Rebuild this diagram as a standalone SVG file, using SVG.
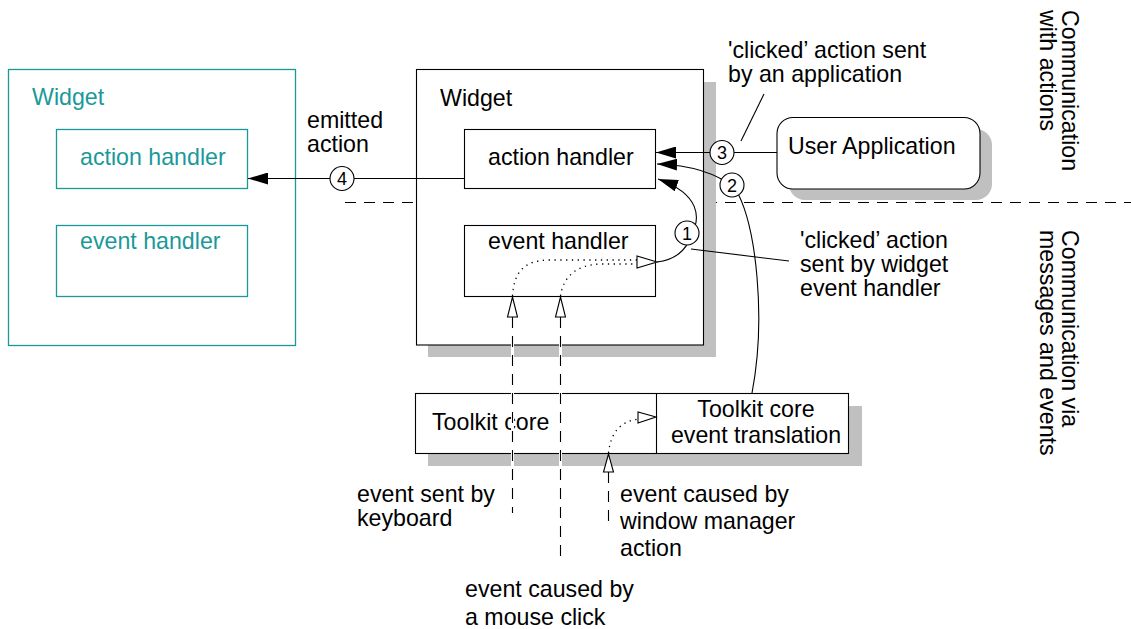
<svg xmlns="http://www.w3.org/2000/svg" width="1131" height="629" viewBox="0 0 1131 629">
  <style>
    text { font-family: "Liberation Sans", Arial, sans-serif; font-size: 23.2px; fill: #000; }
    .teal { fill: #1a9999; }
    .tealbox { fill: none; stroke: #1a9999; stroke-width: 1.3; }
    .box { fill: #fff; stroke: #000; stroke-width: 1.1; }
    .shadow { fill: #c0c0c0; stroke: none; }
    .line { fill: none; stroke: #000; stroke-width: 1.1; }
    .dotted { fill: none; stroke: #000; stroke-width: 1.3; stroke-dasharray: 1.3 4.5; }
    .dash { fill: none; stroke: #000; stroke-width: 1.1; stroke-dasharray: 11 8; }
    .under { fill: none; stroke: #fff; stroke-width: 3; }
    .open { fill: #fff; stroke: #000; stroke-width: 1.1; }
    .num { fill: #fff; stroke: #000; stroke-width: 1.1; }
    .numtxt { font-size: 18px; text-anchor: middle; }
    .mid { text-anchor: middle; }
  </style>
  <defs>
    <marker id="arrowFilled" markerUnits="userSpaceOnUse" markerWidth="20" markerHeight="12" refX="20" refY="6" orient="auto">
      <path d="M0,0 L20,6 L0,12 z" fill="#000"/>
    </marker>
  </defs>

  <!-- region separator -->
  <line class="dash" x1="345" y1="202.5" x2="1131" y2="202.5"/>

  <!-- emitting widget (teal) -->
  <g id="widget-emitted">
    <rect class="tealbox" x="8.5" y="69.5" width="287" height="276"/>
    <text class="teal" x="32" y="105">Widget</text>
    <rect class="tealbox" x="56.5" y="129.5" width="191" height="59"/>
    <text class="teal" x="80" y="165">action handler</text>
    <rect class="tealbox" x="56.5" y="225.5" width="191" height="71"/>
    <text class="teal" x="80" y="249">event handler</text>
  </g>

  <!-- widget -->
  <g id="widget">
    <path class="shadow" d="M704,82 H716 V357 H428 V345 H704 Z"/>
    <rect class="box" x="416.5" y="69.5" width="287" height="275.5"/>
    <text x="440" y="106">Widget</text>
  </g>
  <g id="action-handler">
    <rect class="box" x="464.5" y="129.5" width="191" height="59"/>
    <text x="488" y="165">action handler</text>
  </g>
  <g id="event-handler">
    <rect class="box" x="464.5" y="225.5" width="191" height="71"/>
    <text x="488" y="249">event handler</text>
  </g>

  <!-- user application -->
  <g id="user-application">
    <rect class="shadow" x="789" y="129" width="203" height="71" rx="16"/>
    <rect class="box" x="777" y="117.5" width="203" height="71.5" rx="16"/>
    <text x="788" y="154">User Application</text>
  </g>

  <!-- toolkit core -->
  <g id="toolkit-core">
    <rect class="shadow" x="428" y="406" width="434" height="60"/>
    <rect class="box" x="415.5" y="393.5" width="433" height="60"/>
    <text x="432" y="430">Toolkit core</text>
  </g>
  <g id="toolkit-translation">
    <line class="line" x1="656.5" y1="393.5" x2="656.5" y2="453.5"/>
    <text class="mid" x="756" y="417">Toolkit core</text>
    <text class="mid" x="756" y="443">event translation</text>
  </g>

  <!-- connectors -->
  <g id="connectors">
    <!-- 4: emitted action -->
    <path class="line" d="M464,178.5 L248,178.5" marker-end="url(#arrowFilled)"/>
    <!-- 3: action from the application -->
    <path class="line" d="M777,152.5 L656,152.5" marker-end="url(#arrowFilled)"/>
    <!-- 2: action from the event translation -->
    <path class="line" d="M752,393 C766,320 757,225 735,188 C715,172 690,165 657,164" marker-end="url(#arrowFilled)"/>
    <!-- 1: action from the widget event handler -->
    <path class="line" d="M657,262 C675,260 686,250 690,238 C702,218 700,194 658,179" marker-end="url(#arrowFilled)"/>

    <!-- incoming events -->
    <line class="under" x1="512.5" y1="317" x2="512.5" y2="513"/>
    <line class="dash" x1="512.5" y1="317" x2="512.5" y2="513"/>
    <line class="under" x1="560.5" y1="317" x2="560.5" y2="561"/>
    <line class="dash" x1="560.5" y1="317" x2="560.5" y2="561"/>
    <line class="under" x1="608.5" y1="472" x2="608.5" y2="523"/>
    <line class="dash" x1="608.5" y1="472" x2="608.5" y2="523"/>

    <path class="dotted" d="M512.5,296 C514,272 524,260 550,260 L637,260"/>
    <path class="dotted" d="M560.5,296 C563,278 575,265 600,264 L637,264"/>
    <path class="dotted" d="M608.5,453 C611,432 620,422 638,419"/>

    <polygon class="open" points="512.5,297 507.5,317 517.5,317"/>
    <polygon class="open" points="560.5,297 555.5,317 565.5,317"/>
    <polygon class="open" points="608.5,454 603.5,472 613.5,472"/>
    <polygon class="open" points="657,262 637,256 637,268"/>
    <polygon class="open" points="656,417 638,412 638,423"/>

    <!-- label leaders -->
    <line class="line" x1="764" y1="94" x2="741" y2="141"/>
    <line class="line" x1="691" y1="249" x2="789" y2="261"/>
  </g>

  <!-- step numbers -->
  <g id="step-4">
    <circle class="num" cx="342" cy="178.5" r="12"/>
    <text class="numtxt" x="342" y="185">4</text>
  </g>
  <g id="step-3">
    <circle class="num" cx="722" cy="152.5" r="12"/>
    <text class="numtxt" x="722" y="159">3</text>
  </g>
  <g id="step-2">
    <circle class="num" cx="732" cy="185" r="12"/>
    <text class="numtxt" x="732" y="191.5">2</text>
  </g>
  <g id="step-1">
    <circle class="num" cx="687" cy="233" r="12"/>
    <text class="numtxt" x="687" y="239.5">1</text>
  </g>

  <!-- labels -->
  <g id="labels">
    <text x="307" y="128">emitted</text>
    <text x="307" y="152">action</text>
    <text x="728" y="58">'clicked’ action sent</text>
    <text x="728" y="82">by an application</text>
    <text x="800" y="248">'clicked’ action</text>
    <text x="800" y="272">sent by widget</text>
    <text x="800" y="296">event handler</text>
    <text x="357" y="502">event sent by</text>
    <text x="357" y="526">keyboard</text>
    <text x="620" y="502">event caused by</text>
    <text x="620" y="529">window manager</text>
    <text x="620" y="556">action</text>
    <text x="465" y="597">event caused by</text>
    <text x="465" y="625">a mouse click</text>
    <text transform="translate(1062,10) rotate(90)">
      <tspan x="0" y="0">Communication</tspan>
      <tspan x="0" y="22">with actions</tspan>
    </text>
    <text transform="translate(1062,230) rotate(90)">
      <tspan x="0" y="0">Communication via</tspan>
      <tspan x="0" y="22">messages and events</tspan>
    </text>
  </g>
</svg>
